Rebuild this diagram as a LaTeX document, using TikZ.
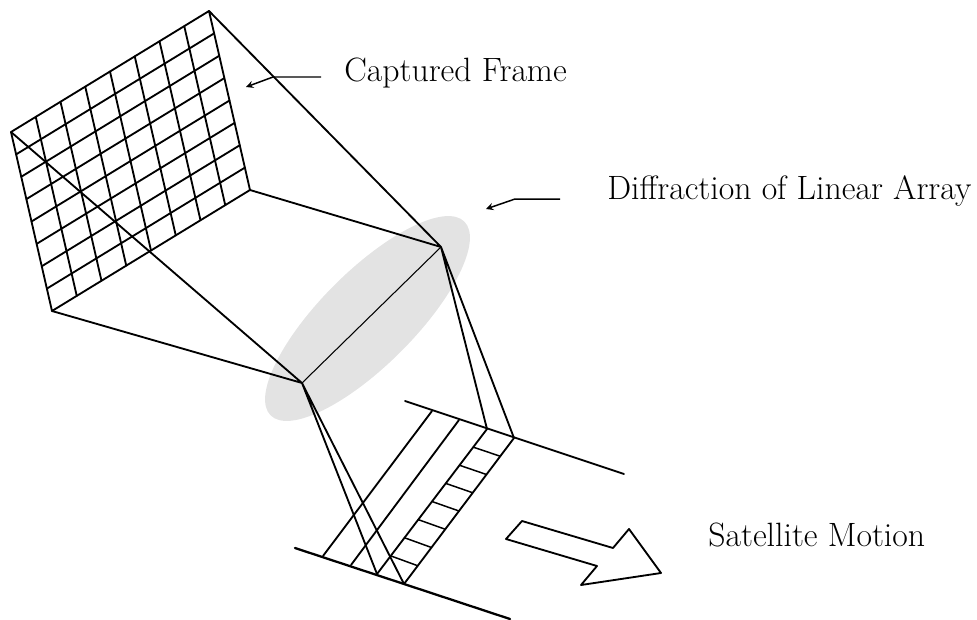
\documentclass[tikz,border=0pt]{standalone}
\usepackage{amsmath, amssymb}
\usepackage{xcolor}
\usetikzlibrary{positioning, calc}
\definecolor{sombra}{HTML}{E3E3E3}
\tikzset{
  linha/.style={line width=1.05pt, line cap=round, line join=round},
  fina/.style={line width=0.6pt},
  rotulo/.style={anchor=base west, inner sep=0pt, font=\fontsize{19.2}{22}\selectfont},
  seta/.style={-stealth, line width=0.85pt}
}
\begin{document}
\begin{tikzpicture}[x=0.02cm, y=-0.02cm]
\useasboundingbox (0,0) rectangle (977,619);
% --- CANTOS DO QUADRO E DO ARRANJO ---
\coordinate (tl) at (11,132);
\coordinate (tr) at (209,11);
\coordinate (br) at (250,190);
\coordinate (bl) at (52,311);
\coordinate (focoA) at (302,383);
\coordinate (focoB) at (441,247);
\coordinate (railA) at (405,401);
\coordinate (railB) at (624,474);
\coordinate (railC) at (295,548);
\coordinate (railD) at (510,619);
\coordinate (upA) at (432,411);
\coordinate (upB) at (459,420);
\coordinate (upC) at (487,429);
\coordinate (upD) at (514,438);
\coordinate (loA) at (323,556);
\coordinate (loB) at (351,565);
\coordinate (loC) at (377,574);
\coordinate (loD) at (404,584);

% LAYER 1: Difracao (elipse)
\fill[sombra, rotate around={45:(367.5,318.5)}] (367.5,318.5) ellipse [x radius=137, y radius=47];

% LAYER 2: Quadro capturado
\draw[linha] (tl) -- (tr) -- (br) -- (bl) -- cycle;
\foreach \i in {1,...,7} {
  \draw[linha] ($(tl)!\i/8!(tr)$) -- ($(bl)!\i/8!(br)$);
  \draw[linha] ($(tl)!\i/8!(bl)$) -- ($(tr)!\i/8!(br)$);
}

% LAYER 3: Raios
\draw[linha] (tl) -- (focoA) -- (bl);
\draw[linha] (tr) -- (focoB) -- (br);
\draw[fina] (focoA) -- (focoB);
\draw[linha] (loC) -- (focoA) -- (loD);
\draw[linha] (upC) -- (focoB) -- (upD);

% LAYER 4: Arranjo linear
\draw[linha] (railA) -- (railB);
\draw[linha, line width=1.3pt] (railC) -- (railD);
\draw[linha] (upA) -- (loA);
\draw[linha] (upB) -- (loB);
\draw[linha] (upC) -- (loC);
\draw[linha] (upD) -- (loD);
\foreach \i in {1,...,7} {
  \draw[linha, line width=0.85pt] ($(upC)!\i/8!(loC)$) -- ($(upD)!\i/8!(loD)$);
}

% LAYER 5: Seta de movimento
\draw[linha] (522,521) -- (613,548) -- (629,529) -- (661,573) -- (581,585) -- (597,566) -- (506,539) -- cycle;

% LAYER 6: Rotulos e setas
\node[rotulo] (frame) at (344,81) {Captured Frame};
\node[rotulo] (diffraction) at (607,199) {Diffraction of Linear Array};
\node[rotulo] (motion) at (708,546) {Satellite Motion};
\coordinate (frameA) at (321,77);
\coordinate (frameB) at (246,87);
\coordinate (diffA) at (560,199);
\coordinate (diffB) at (486,209);
\draw[seta] (frameA) -- (273,77) -- (frameB);
\draw[seta] (diffA) -- (515,199) -- (diffB);
\end{tikzpicture}
\end{document}
